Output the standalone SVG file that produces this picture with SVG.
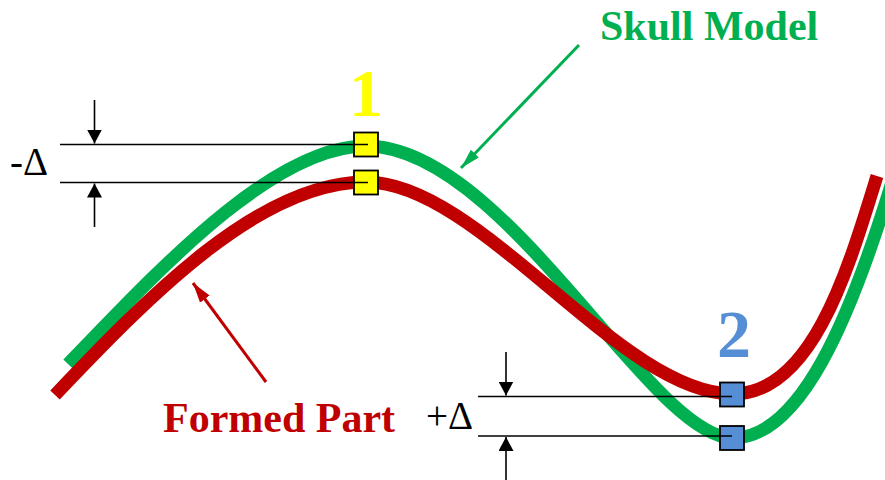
<svg xmlns="http://www.w3.org/2000/svg" width="885" height="480" viewBox="0 0 885 480">
<style>
.curve{fill:none;stroke-width:13;stroke-linecap:butt}
.dim{stroke:#000;stroke-width:1.6;fill:none}
.sq{stroke:#000;stroke-width:1.8}
.lbl{font-family:"Liberation Serif","Times New Roman",serif;font-weight:bold}
.sym{font-family:"Liberation Serif","Times New Roman","DejaVu Serif",serif;font-size:39px;fill:#000}
</style>
<defs>
<marker id="dimHead" markerUnits="userSpaceOnUse" markerWidth="14" markerHeight="15" viewBox="0 0 14 15" refX="14" refY="7.5" orient="auto">
<path d="M0,0 L14,7.5 L0,15 z" fill="#000"/>
</marker>
<marker id="greenHead" markerUnits="userSpaceOnUse" markerWidth="20" markerHeight="11" viewBox="0 0 20 11" refX="20" refY="5.5" orient="auto">
<path d="M0,0 L20,5.5 L0,11 z" fill="#00B050"/>
</marker>
<marker id="redHead" markerUnits="userSpaceOnUse" markerWidth="20" markerHeight="12" viewBox="0 0 20 12" refX="20" refY="6" orient="auto">
<path d="M0,0 L20,6 L0,12 z" fill="#C00000"/>
</marker>
</defs>
<g id="skull-model-curve">
<path class="curve" stroke="#00B050" d="M68,364 C150,280 270,146 366,146 C505,146 650,438 733,438 C800,438 850,320 892,182"/>
</g>
<g id="formed-part-curve">
<path class="curve" stroke="#C00000" d="M55,395 C150,295 260,182 366,182 C480,182 620,394 733,394 C812,394 848,270 877,176"/>
</g>
<g id="point-1">
<rect class="sq" x="354" y="132.5" width="24" height="24" fill="#FFFF00"/>
<rect class="sq" x="354" y="170.5" width="24" height="24" fill="#FFFF00"/>
<text class="lbl" x="366" y="116" font-size="68" fill="#FFFF00" text-anchor="middle">1</text>
</g>
<g id="point-2">
<rect class="sq" x="720" y="382.5" width="24" height="24" fill="#558ED5"/>
<rect class="sq" x="720" y="426" width="24" height="24" fill="#558ED5"/>
<text class="lbl" x="734" y="357" font-size="68" fill="#558ED5" text-anchor="middle">2</text>
</g>
<g id="connectors">
<line class="dim" x1="60" y1="144.5" x2="368" y2="144.5"/>
<line class="dim" x1="60" y1="182.5" x2="368" y2="182.5"/>
<line class="dim" x1="94.5" y1="100" x2="94.5" y2="143.5" marker-end="url(#dimHead)"/>
<line class="dim" x1="94.5" y1="227" x2="94.5" y2="183.5" marker-end="url(#dimHead)"/>
<line class="dim" x1="478" y1="396.5" x2="732" y2="396.5"/>
<line class="dim" x1="478" y1="436" x2="732" y2="436"/>
<line class="dim" x1="506" y1="352" x2="506" y2="395.5" marker-end="url(#dimHead)"/>
<line class="dim" x1="506" y1="480" x2="506" y2="437" marker-end="url(#dimHead)"/>
<line x1="579" y1="45" x2="461" y2="168" stroke="#00B050" stroke-width="3" marker-end="url(#greenHead)"/>
<line x1="266" y1="382" x2="193" y2="283" stroke="#C00000" stroke-width="3" marker-end="url(#redHead)"/>
</g>
<g id="labels">
<text class="sym" x="10" y="175">-Δ</text>
<text class="sym" x="426" y="429">+Δ</text>
<text class="lbl" x="600" y="40" font-size="42" fill="#00B050">Skull Model</text>
<text class="lbl" x="163" y="432" font-size="42" fill="#C00000">Formed Part</text>
</g>
</svg>
